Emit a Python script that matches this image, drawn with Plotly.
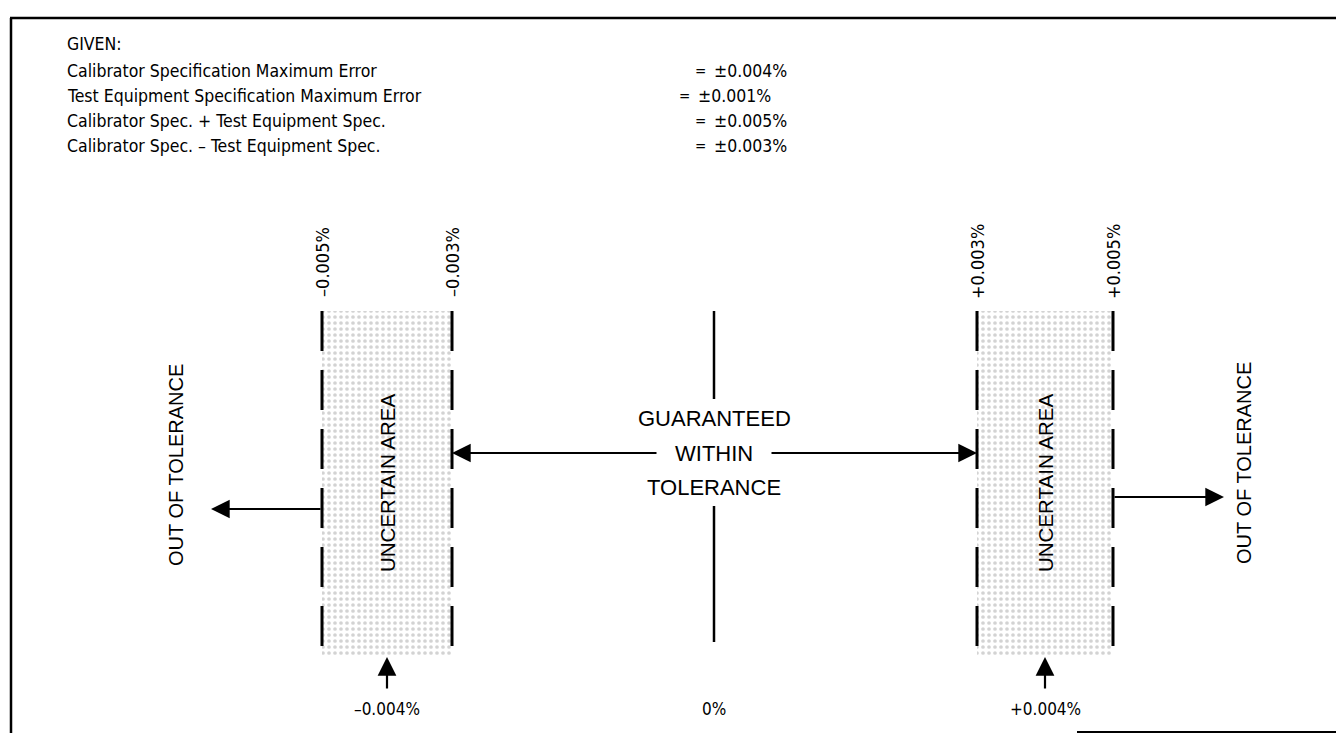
import numpy as np
import plotly.graph_objects as go

# given specifications
given_labels = [
    "Calibrator Specification Maximum Error",
    "Test Equipment Specification Maximum Error",
    "Calibrator Spec. + Test Equipment Spec.",
    "Calibrator Spec. \u2013 Test Equipment Spec.",
]
given_values = ["\u00b10.004%", "\u00b10.001%", "\u00b10.005%", "\u00b10.003%"]

# tolerance boundaries (percent)
bound_values = [-0.005, -0.003, 0.003, 0.005]
bound_labels = ["\u20130.005%", "\u20130.003%", "+0.003%", "+0.005%"]

# reference points below the diagram
point_values = [-0.004, 0.0, 0.004]
point_labels = ["\u20130.004%", "0%", "+0.004%"]

# schematic (non linear) scale: value -> page x
scale_dom = [-0.005, -0.003, 0.0, 0.003, 0.005]
scale_rng = [322, 452, 714, 977, 1113]


def xpos(v):
    return float(np.interp(v, scale_dom, scale_rng))


FONT = "Liberation Sans"
NARROW = "DejaVu Sans Condensed, Liberation Sans Narrow, Liberation Sans"
TOP, BOT = 311, 657

fig = go.Figure()

# uncertain areas (stippled)
for lo, hi in [(bound_values[0], bound_values[1]), (bound_values[2], bound_values[3])]:
    x0, x1 = xpos(lo), xpos(hi)
    fig.add_trace(go.Scatter(
        x=[x0, x1, x1, x0, x0], y=[TOP, TOP, BOT, BOT, TOP],
        mode="lines", line=dict(width=0), fill="toself",
        fillcolor="white",
        fillpattern=dict(shape=".", fgcolor="#a8a8a8", bgcolor="white",
                         size=6, solidity=0.3),
        hoverinfo="skip", showlegend=False,
    ))

# dashed boundary lines
for v in bound_values:
    fig.add_trace(go.Scatter(
        x=[xpos(v), xpos(v)], y=[TOP, BOT], mode="lines",
        line=dict(color="black", width=3, dash="40px,19px"),
        hoverinfo="skip", showlegend=False,
    ))

# center 0% line (broken around the text)
x0 = xpos(point_values[1])
fig.add_trace(go.Scatter(
    x=[x0, x0, None, x0, x0], y=[TOP, 399, None, 506, 642], mode="lines",
    line=dict(color="black", width=2.5), hoverinfo="skip", showlegend=False,
))

ann = []

# given block
ann.append(dict(x=65, y=44, text="GIVEN:", xanchor="left", font=dict(size=17.5, family=NARROW)))
eq_x = [700, 684, 700, 700]
for i, (lab, val) in enumerate(zip(given_labels, given_values)):
    y = 71 + i * 25
    ann.append(dict(x=65, y=y, text=lab, xanchor="left", font=dict(size=17.5, family=NARROW)))
    ann.append(dict(x=eq_x[i], y=y, text="=", xanchor="center", font=dict(size=15, family=NARROW)))
    ann.append(dict(x=eq_x[i] + 12, y=y, text=val, xanchor="left", font=dict(size=17.5, family=NARROW)))

# rotated boundary labels
for v, lab in zip(bound_values, bound_labels):
    ann.append(dict(x=xpos(v), y=262, text=lab, textangle=-90, font=dict(size=18, family=NARROW)))

# uncertain area labels
for lo, hi in [(bound_values[0], bound_values[1]), (bound_values[2], bound_values[3])]:
    ann.append(dict(x=(xpos(lo) + xpos(hi)) / 2, y=483, text="UNCERTAIN AREA",
                    textangle=-90, font=dict(size=20.5)))

# out of tolerance labels
ann.append(dict(x=176, y=465, text="OUT OF TOLERANCE", textangle=-90, font=dict(size=20)))
ann.append(dict(x=1244, y=463, text="OUT OF TOLERANCE", textangle=-90, font=dict(size=20)))

# guaranteed within tolerance
for y, t in [(418, "GUARANTEED"), (453, "WITHIN"), (487, "TOLERANCE")]:
    ann.append(dict(x=x0, y=y, text=t, font=dict(size=22)))

arrow = dict(showarrow=True, arrowhead=2, arrowsize=1.7, arrowwidth=2.2,
             arrowcolor="black", axref="x", ayref="y", text="")
# arrows to the guaranteed limits
ann.append(dict(x=xpos(bound_values[1]), y=453, ax=658, ay=453, **arrow))
ann.append(dict(x=xpos(bound_values[2]), y=453, ax=770, ay=453, **arrow))
# out of tolerance arrows
ann.append(dict(x=211, y=509, ax=xpos(bound_values[0]), ay=509, **arrow))
ann.append(dict(x=1224, y=497, ax=xpos(bound_values[3]), ay=497, **arrow))

# bottom reference points
for v, lab in zip(point_values, point_labels):
    xp = xpos(v)
    if v != 0:
        ann.append(dict(x=xp, y=657, ax=xp, ay=690, **arrow))
    ann.append(dict(x=xp, y=709, text=lab, font=dict(size=17, family=NARROW)))

for a in ann:
    a.setdefault("showarrow", False)
    a.setdefault("xref", "x")
    a.setdefault("yref", "y")
    a.setdefault("yanchor", "middle")
    f = a.get("font", {})
    a["font"] = dict(color="black", family=f.get("family", FONT), size=f.get("size", 16))

# frame
shapes = [
    dict(type="line", x0=10, y0=18, x1=1344, y1=18, line=dict(color="black", width=2.5)),
    dict(type="line", x0=11, y0=18, x1=11, y1=733, line=dict(color="black", width=2.5)),
    dict(type="line", x0=1077, y0=732, x1=1344, y1=732, line=dict(color="black", width=2)),
]

# the page body has an 8px margin: shift the ranges so coordinates match the window
fig.update_layout(
    width=1336, height=725,
    margin=dict(l=0, r=0, t=0, b=0),
    paper_bgcolor="white", plot_bgcolor="white",
    annotations=ann, shapes=shapes, showlegend=False,
    xaxis=dict(range=[8, 1344], visible=False, fixedrange=True),
    yaxis=dict(range=[733, 8], visible=False, fixedrange=True),
)

fig.write_html("out.html")
